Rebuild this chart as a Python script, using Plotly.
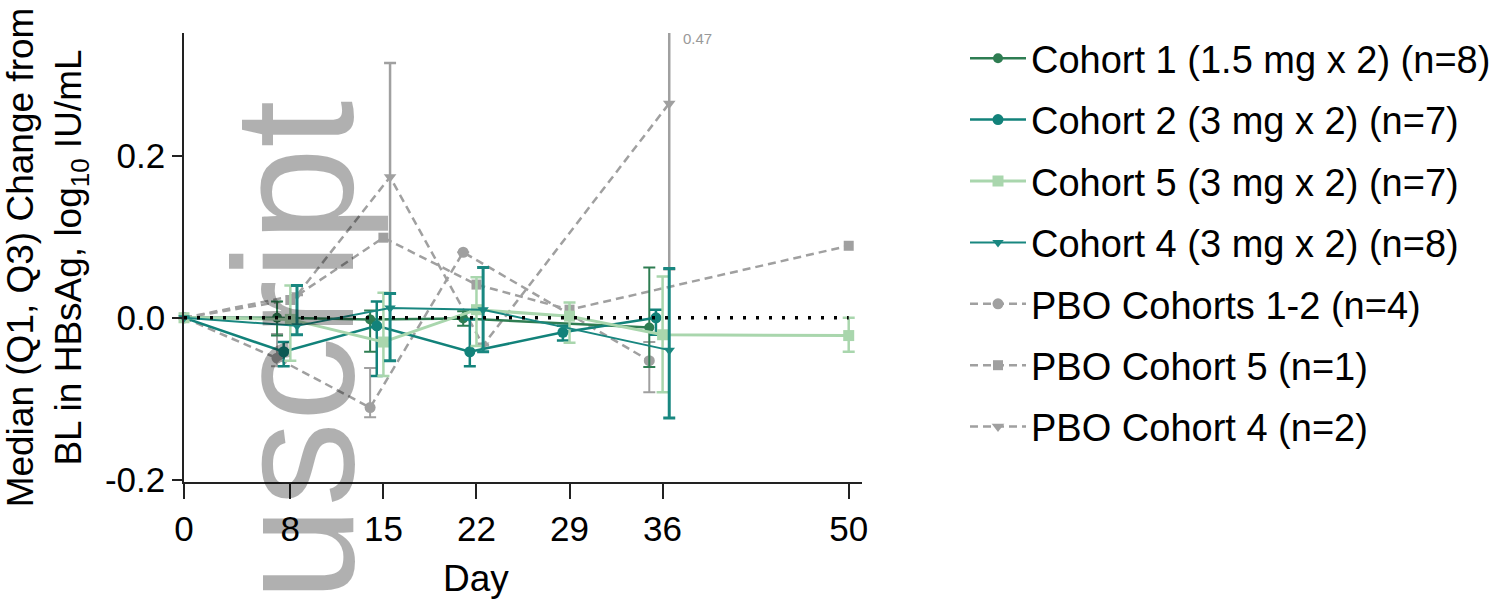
import plotly.graph_objects as go

# ---- data ----
days_c1 = [0, 7, 14, 21, 35]
c1_med = [0, 0.0, -0.002, -0.001, -0.012]
c1_q1 = [0, -0.022, -0.042, -0.010, -0.061]
c1_q3 = [0, 0.020, 0.009, 0.008, 0.062]

days_c2 = [0, 7.5, 14.5, 21.5, 28.5, 35.5]
c2_med = [0, -0.042, -0.010, -0.042, -0.018, 0.0]
c2_q1 = [0, -0.060, -0.072, -0.060, -0.028, -0.021]
c2_q3 = [0, -0.030, 0.020, -0.002, -0.010, 0.010]

days_c5 = [0, 8, 15, 22, 29, 36, 50]
c5_med = [0, -0.002, -0.030, 0.010, 0.002, -0.021, -0.022]
c5_q1 = [0, -0.053, -0.072, -0.035, -0.031, -0.092, -0.042]
c5_q3 = [0, 0.040, 0.031, 0.050, 0.019, 0.051, 0.0]

days_c4 = [0, 8.5, 15.5, 22.5, 36.5]
c4_med = [0, -0.010, 0.012, 0.010, -0.040]
c4_q1 = [0, -0.021, -0.053, -0.042, -0.124]
c4_q3 = [0, 0.040, 0.030, 0.062, 0.061]

days_p12 = [0, 7, 14, 21, 35]
p12_med = [0, -0.050, -0.111, 0.081, -0.053]
p12_q1 = [0, -0.060, -0.123, 0.081, -0.092]
p12_q3 = [0, -0.020, -0.062, 0.081, -0.030]

days_p5 = [0, 8, 15, 22, 29, 50]
p5_med = [0, 0.022, 0.099, 0.041, 0.010, 0.089]

days_p4 = [0, 8.5, 15.5, 22.5, 36.5]
p4_med = [0, 0.028, 0.174, -0.034, 0.265]
p4_q1 = [0, 0.028, 0.030, -0.034, 0.060]
p4_q3 = [0, 0.028, 0.315, -0.034, 0.470]

ref_days = [0, 50]
ref_vals = [0, 0]

x_ticks = [0, 8, 15, 22, 29, 36, 50]
y_ticks = [-0.2, 0.0, 0.2]
y_ticktext = ["-0.2", "0.0", "0.2"]

names = [
    "Cohort 1 (1.5 mg x 2) (n=8)",
    "Cohort 2 (3 mg x 2) (n=7)",
    "Cohort 5 (3 mg x 2) (n=7)",
    "Cohort 4 (3 mg x 2) (n=8)",
    "PBO Cohorts 1-2 (n=4)",
    "PBO Cohort 5 (n=1)",
    "PBO Cohort 4 (n=2)",
]

FONT = "Arial, Liberation Sans, sans-serif"
C1 = "#2e7d52"
C2 = "#12827a"
C5 = "#a9d6ad"
C4 = "#198780"
GR = "#a0a0a0"

L, R, T, B = 184, 862, 33, 482
W, H = 1510, 604


def err(med, q1, q3, color, thick):
    return dict(type="data", symmetric=False,
                array=[b - m for m, b in zip(med, q3)],
                arrayminus=[m - a for m, a in zip(med, q1)],
                color=color, thickness=thick, width=6)


fig = go.Figure()

# placebo series (drawn first, underneath)
fig.add_trace(go.Scatter(
    x=days_p12, y=p12_med, name=names[4], legendgroup="p12", legendrank=5,
    mode="lines+markers", cliponaxis=False,
    line=dict(color=GR, width=2.5, dash="8px,5px"),
    marker=dict(symbol="circle", size=11, color=GR),
    error_y=err(p12_med, p12_q1, p12_q3, GR, 2)))
fig.add_trace(go.Scatter(
    x=days_p5, y=p5_med, name=names[5], legendgroup="p5", legendrank=6,
    mode="lines+markers", cliponaxis=False,
    line=dict(color=GR, width=2.5, dash="8px,5px"),
    marker=dict(symbol="square", size=10, color=GR)))
fig.add_trace(go.Scatter(
    x=days_p4, y=p4_med, name=names[6], legendgroup="p4", legendrank=7,
    mode="lines+markers", cliponaxis=True,
    line=dict(color=GR, width=2.5, dash="8px,5px"),
    marker=dict(symbol="triangle-down", size=11, color=GR),
    error_y=err(p4_med, p4_q1, p4_q3, GR, 2.5)))

# active cohorts
fig.add_trace(go.Scatter(
    x=days_c1, y=c1_med, name=names[0], legendgroup="c1", legendrank=1,
    mode="lines+markers", cliponaxis=False,
    line=dict(color=C1, width=2.5),
    marker=dict(symbol="circle", size=10, color=C1),
    error_y=err(c1_med, c1_q1, c1_q3, C1, 2)))
fig.add_trace(go.Scatter(
    x=days_c2, y=c2_med, name=names[1], legendgroup="c2", legendrank=2,
    mode="lines+markers", cliponaxis=False,
    line=dict(color=C2, width=2.5),
    marker=dict(symbol="circle", size=11, color=C2),
    error_y=err(c2_med, c2_q1, c2_q3, C2, 2.5)))
fig.add_trace(go.Scatter(
    x=days_c5, y=c5_med, name=names[2], legendgroup="c5", legendrank=3,
    mode="lines+markers", cliponaxis=False,
    line=dict(color=C5, width=3),
    marker=dict(symbol="square", size=11, color=C5),
    error_y=err(c5_med, c5_q1, c5_q3, C5, 2.5)))
fig.add_trace(go.Scatter(
    x=days_c4, y=c4_med, name=names[3], legendgroup="c4", legendrank=4,
    mode="lines+markers", cliponaxis=False,
    line=dict(color=C4, width=2),
    marker=dict(symbol="triangle-down", size=10, color=C4),
    error_y=err(c4_med, c4_q1, c4_q3, C4, 3)))

# zero reference line
fig.add_trace(go.Scatter(
    x=ref_days, y=ref_vals, mode="lines", showlegend=False, hoverinfo="skip",
    line=dict(color="black", width=3.5, dash="3px,10px")))


def px_x(p):
    return (p - L) / (R - L)


def px_y(p):
    return (B - p) / (B - T)


fig.update_layout(
    width=W, height=H,
    margin=dict(l=L, r=W - R, t=T, b=H - B, autoexpand=False),
    paper_bgcolor="white", plot_bgcolor="white",
    font=dict(family=FONT, size=35, color="black"),
    showlegend=True,
    legend=dict(
        x=px_x(965), xanchor="left", y=px_y(27), yanchor="top",
        traceorder="grouped", tracegroupgap=9, maxheight=570,
        font=dict(family=FONT, size=38, color="black"),
        itemwidth=56, bgcolor="rgba(0,0,0,0)"),
    xaxis=dict(
        range=[0, 51], tickvals=x_ticks, ticks="outside", ticklen=15,
        tickwidth=1.5, tickcolor="#222", showline=True, linecolor="#222",
        linewidth=1.5, showgrid=False, zeroline=False, automargin=False,
        tickfont=dict(family=FONT, size=35, color="black")),
    yaxis=dict(
        range=[-0.203, 0.352], tickvals=y_ticks, ticktext=y_ticktext,
        ticks="outside", ticklen=10, tickwidth=1.5, tickcolor="#222",
        showline=True, linecolor="#222", linewidth=1.5, showgrid=False,
        zeroline=False, automargin=False,
        tickfont=dict(family=FONT, size=35, color="black"),
        title=dict(text="Median (Q1, Q3) Change from<br>BL in HBsAg, log<sub>10</sub> IU/mL",
                   font=dict(family=FONT, size=37, color="black"), standoff=14)),
    annotations=[
        dict(text="Author Manuscript", textangle=-90, xref="paper", yref="paper",
             x=px_x(294), y=px_y(98), xanchor="center", yanchor="top",
             showarrow=False,
             font=dict(family=FONT, size=170, color="rgba(0,0,0,0.31)")),
        dict(text="Day", xref="paper", yref="paper",
             x=px_x(476), y=px_y(578), xanchor="center", yanchor="middle",
             showarrow=False, font=dict(family=FONT, size=37, color="black")),
        dict(text="0.47", xref="x", yref="paper", x=37.4, y=px_y(38),
             xanchor="left", yanchor="middle", showarrow=False,
             font=dict(family=FONT, size=15, color="#999999")),
    ],
)

fig.write_html("out.html", config={"displayModeBar": False},
               post_script="document.body.style.margin='0';document.body.style.overflow='hidden';")
